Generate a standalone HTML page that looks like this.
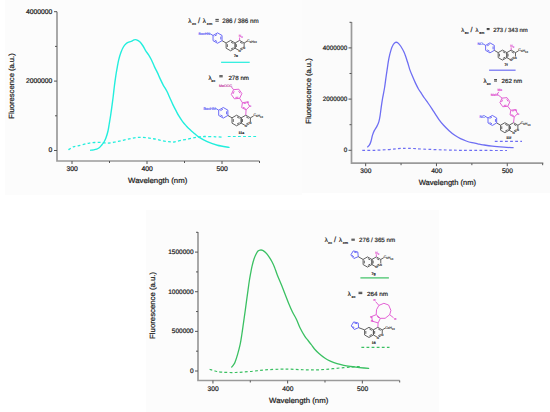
<!DOCTYPE html>
<html><head><meta charset="utf-8"><style>
html,body{margin:0;padding:0;background:#fff;}
body{width:550px;height:412px;overflow:hidden;font-family:"Liberation Sans", sans-serif;}
svg{display:block;}
</style></head><body>
<svg width="550" height="412" viewBox="0 0 550 412" font-family='"Liberation Sans", sans-serif' text-rendering="geometricPrecision">
<rect width="550" height="412" fill="#fff"/>
<rect x="5" y="0" width="297" height="195" fill="#fcfcfc"/>
<rect x="302" y="0" width="248" height="193" fill="#fbfbfb"/>
<rect x="146" y="210" width="293" height="202" fill="#fcfcfc"/>
<path d="M57,11.7 V161 H259.5" fill="none" stroke="#9a9a9a" stroke-width="1.7"/>
<line x1="54" y1="150.5" x2="57" y2="150.5" stroke="#555" stroke-width="1"/>
<text x="52.4" y="152.38" font-size="6.8" text-anchor="end" fill="#222" stroke="#222" stroke-width="0.22" >0</text>
<line x1="54" y1="81.1" x2="57" y2="81.1" stroke="#555" stroke-width="1"/>
<text x="52.4" y="82.97999999999999" font-size="6.8" text-anchor="end" fill="#222" stroke="#222" stroke-width="0.22" >2000000</text>
<line x1="54" y1="11.699999999999989" x2="57" y2="11.699999999999989" stroke="#555" stroke-width="1"/>
<text x="52.4" y="13.579999999999988" font-size="6.8" text-anchor="end" fill="#222" stroke="#222" stroke-width="0.22" >4000000</text>
<line x1="55" y1="115.8" x2="57" y2="115.8" stroke="#555" stroke-width="1"/>
<line x1="55" y1="46.39999999999999" x2="57" y2="46.39999999999999" stroke="#555" stroke-width="1"/>
<line x1="72.0" y1="161" x2="72.0" y2="164" stroke="#555" stroke-width="1"/>
<text x="72.2" y="171.1" font-size="6.8" text-anchor="middle" fill="#222" stroke="#222" stroke-width="0.22" >300</text>
<line x1="147.0" y1="161" x2="147.0" y2="164" stroke="#555" stroke-width="1"/>
<text x="147.2" y="171.1" font-size="6.8" text-anchor="middle" fill="#222" stroke="#222" stroke-width="0.22" >400</text>
<line x1="222.0" y1="161" x2="222.0" y2="164" stroke="#555" stroke-width="1"/>
<text x="222.2" y="171.1" font-size="6.8" text-anchor="middle" fill="#222" stroke="#222" stroke-width="0.22" >500</text>
<line x1="109.5" y1="161" x2="109.5" y2="163" stroke="#555" stroke-width="1"/>
<line x1="184.5" y1="161" x2="184.5" y2="163" stroke="#555" stroke-width="1"/>
<line x1="259.5" y1="161" x2="259.5" y2="163" stroke="#555" stroke-width="1"/>
<text x="-32.75" y="0" font-size="7.5" fill="#222" stroke="#222" stroke-width="0.22" textLength="65.5" lengthAdjust="spacingAndGlyphs" transform="translate(14.3,86.0) rotate(-90)">Fluorescence (a.u.)</text>
<text x="128.10" y="183.4" font-size="7.5" fill="#222" stroke="#222" stroke-width="0.22" textLength="59.2" lengthAdjust="spacingAndGlyphs">Wavelength (nm)</text>
<path d="M90.70,150.20 C91.20,150.15 92.70,150.07 93.70,149.90 C94.70,149.73 95.78,149.55 96.70,149.20 C97.62,148.85 98.45,148.40 99.20,147.80 C99.95,147.20 100.40,146.57 101.20,145.60 C102.00,144.63 103.20,143.32 104.00,142.00 C104.80,140.68 105.33,139.53 106.00,137.70 C106.67,135.87 107.45,133.37 108.00,131.00 C108.55,128.63 108.85,126.17 109.30,123.50 C109.75,120.83 110.25,117.97 110.70,115.00 C111.15,112.03 111.58,108.78 112.00,105.70 C112.42,102.62 112.80,99.78 113.20,96.50 C113.60,93.22 113.97,89.45 114.40,86.00 C114.83,82.55 115.32,78.95 115.80,75.80 C116.28,72.65 116.82,69.77 117.30,67.10 C117.78,64.43 118.10,62.22 118.70,59.80 C119.30,57.38 120.17,54.65 120.90,52.60 C121.63,50.55 122.25,48.97 123.10,47.50 C123.95,46.03 125.03,44.70 126.00,43.80 C126.97,42.90 127.93,42.53 128.90,42.10 C129.87,41.67 130.95,41.57 131.80,41.20 C132.65,40.83 133.22,40.13 134.00,39.90 C134.78,39.67 135.53,39.48 136.50,39.80 C137.47,40.12 138.77,40.85 139.80,41.80 C140.83,42.75 141.73,44.03 142.70,45.50 C143.67,46.97 144.62,49.03 145.60,50.60 C146.58,52.17 147.62,53.33 148.60,54.90 C149.58,56.47 150.53,58.05 151.50,60.00 C152.47,61.95 153.43,64.53 154.40,66.60 C155.37,68.67 156.33,70.35 157.30,72.40 C158.27,74.45 159.23,76.83 160.20,78.90 C161.17,80.97 161.98,82.73 163.10,84.80 C164.22,86.87 165.77,89.10 166.90,91.30 C168.03,93.50 168.90,95.78 169.90,98.00 C170.90,100.22 171.88,102.48 172.90,104.60 C173.92,106.72 174.98,108.77 176.00,110.70 C177.02,112.63 177.90,114.38 179.00,116.20 C180.10,118.02 181.38,119.98 182.60,121.60 C183.82,123.22 185.08,124.58 186.30,125.90 C187.52,127.22 188.70,128.37 189.90,129.50 C191.10,130.63 192.07,131.47 193.50,132.70 C194.93,133.93 196.22,135.42 198.50,136.90 C200.78,138.38 204.05,140.22 207.20,141.60 C210.35,142.98 213.77,144.23 217.40,145.20 C221.03,146.17 227.07,147.03 229.00,147.40" fill="none" stroke="#22eedd" stroke-width="1.4" stroke-linecap="round"/>
<path d="M68.40,149.80 C69.22,149.30 71.70,147.45 73.30,146.80 C74.90,146.15 76.13,146.33 78.00,145.90 C79.87,145.47 82.60,144.67 84.50,144.20 C86.40,143.73 87.68,143.38 89.40,143.10 C91.12,142.82 93.00,142.63 94.80,142.50 C96.60,142.37 98.38,142.22 100.20,142.30 C102.02,142.38 103.97,142.90 105.70,143.00 C107.43,143.10 108.88,143.10 110.60,142.90 C112.32,142.70 114.27,142.13 116.00,141.80 C117.73,141.47 119.25,141.28 121.00,140.90 C122.75,140.52 124.73,139.92 126.50,139.50 C128.27,139.08 129.93,138.73 131.60,138.40 C133.27,138.07 134.85,137.68 136.50,137.50 C138.15,137.32 139.72,137.25 141.50,137.30 C143.28,137.35 145.38,137.58 147.20,137.80 C149.02,138.02 150.68,138.32 152.40,138.60 C154.12,138.88 155.78,139.12 157.50,139.50 C159.22,139.88 160.83,140.55 162.70,140.90 C164.57,141.25 166.82,141.42 168.70,141.60 C170.58,141.78 171.95,142.20 174.00,142.00 C176.05,141.80 178.38,140.95 181.00,140.40 C183.62,139.85 187.03,139.23 189.70,138.70 C192.37,138.17 194.57,137.57 197.00,137.20 C199.43,136.83 201.15,136.57 204.30,136.50 C207.45,136.43 212.87,136.70 215.90,136.80 C218.93,136.90 221.40,137.05 222.50,137.10" fill="none" stroke="#22eedd" stroke-width="1.3" stroke-dasharray="2.8,2.3"/>
<text x="188.2" y="23.4" font-size="6.30" fill="#2a2a2a" stroke="#2a2a2a" stroke-width="0.2">λ</text>
<text x="191.9" y="25.40" font-size="3.78" fill="#2a2a2a" font-weight="bold" stroke="#2a2a2a" stroke-width="0.12">ex</text>
<text x="198.0" y="23.4" font-size="7.56" fill="#2a2a2a" stroke="#2a2a2a" stroke-width="0.2">/</text>
<text x="202.8" y="23.4" font-size="6.30" fill="#2a2a2a" stroke="#2a2a2a" stroke-width="0.2">λ</text>
<text x="206.8" y="25.40" font-size="3.78" fill="#2a2a2a" font-weight="bold" stroke="#2a2a2a" stroke-width="0.12">em</text>
<rect x="215.40" y="18.90" width="3.40" height="0.9" fill="#2a2a2a"/>
<rect x="215.40" y="20.70" width="3.40" height="0.9" fill="#2a2a2a"/>
<text x="222.2" y="23.4" font-size="6.3" fill="#2a2a2a" stroke="#2a2a2a" stroke-width="0.2" textLength="36.4" lengthAdjust="spacingAndGlyphs">286 / 386 nm</text>
<line x1="221.1" y1="62.3" x2="249.7" y2="62.3" stroke="#22eedd" stroke-width="1.2"/>
<text x="208.5" y="79.6" font-size="6.10" fill="#2a2a2a" stroke="#2a2a2a" stroke-width="0.2">λ</text>
<text x="211.2" y="81.60" font-size="3.66" fill="#2a2a2a" font-weight="bold" stroke="#2a2a2a" stroke-width="0.12">ex</text>
<rect x="219.30" y="75.30" width="3.40" height="0.9" fill="#2a2a2a"/>
<rect x="219.30" y="76.40" width="3.40" height="0.9" fill="#2a2a2a"/>
<text x="228.4" y="79.6" font-size="6.1" fill="#2a2a2a" stroke="#2a2a2a" stroke-width="0.2" textLength="20.6" lengthAdjust="spacingAndGlyphs">278 nm</text>
<line x1="227.8" y1="136.5" x2="257" y2="136.5" stroke="#22eedd" stroke-width="1.2" stroke-dasharray="2.8,2.3"/>
<path d="M351.5,22 V163.2 H543.3" fill="none" stroke="#9a9a9a" stroke-width="1.7"/>
<line x1="348.5" y1="150.3" x2="351.5" y2="150.3" stroke="#555" stroke-width="1"/>
<text x="347.3" y="152.00500000000002" font-size="6.3" text-anchor="end" fill="#222" stroke="#222" stroke-width="0.22" >0</text>
<line x1="348.5" y1="99.10000000000001" x2="351.5" y2="99.10000000000001" stroke="#555" stroke-width="1"/>
<text x="347.3" y="100.805" font-size="6.3" text-anchor="end" fill="#222" stroke="#222" stroke-width="0.22" >2000000</text>
<line x1="348.5" y1="47.900000000000006" x2="351.5" y2="47.900000000000006" stroke="#555" stroke-width="1"/>
<text x="347.3" y="49.605000000000004" font-size="6.3" text-anchor="end" fill="#222" stroke="#222" stroke-width="0.22" >4000000</text>
<line x1="349.5" y1="124.70000000000002" x2="351.5" y2="124.70000000000002" stroke="#555" stroke-width="1"/>
<line x1="349.5" y1="73.5" x2="351.5" y2="73.5" stroke="#555" stroke-width="1"/>
<line x1="349.5" y1="22.30000000000001" x2="351.5" y2="22.30000000000001" stroke="#555" stroke-width="1"/>
<line x1="365.66" y1="163.2" x2="365.66" y2="166.2" stroke="#555" stroke-width="1"/>
<text x="365.86" y="173.29999999999998" font-size="6.6" text-anchor="middle" fill="#222" stroke="#222" stroke-width="0.22" >300</text>
<line x1="436.46" y1="163.2" x2="436.46" y2="166.2" stroke="#555" stroke-width="1"/>
<text x="436.65999999999997" y="173.29999999999998" font-size="6.6" text-anchor="middle" fill="#222" stroke="#222" stroke-width="0.22" >400</text>
<line x1="507.26" y1="163.2" x2="507.26" y2="166.2" stroke="#555" stroke-width="1"/>
<text x="507.46" y="173.29999999999998" font-size="6.6" text-anchor="middle" fill="#222" stroke="#222" stroke-width="0.22" >500</text>
<line x1="401.06" y1="163.2" x2="401.06" y2="165.2" stroke="#555" stroke-width="1"/>
<line x1="471.86" y1="163.2" x2="471.86" y2="165.2" stroke="#555" stroke-width="1"/>
<line x1="542.66" y1="163.2" x2="542.66" y2="165.2" stroke="#555" stroke-width="1"/>
<text x="-32.75" y="0" font-size="7.5" fill="#222" stroke="#222" stroke-width="0.22" textLength="65.5" lengthAdjust="spacingAndGlyphs" transform="translate(310.6,91.0) rotate(-90)">Fluorescence (a.u.)</text>
<text x="418.65" y="185.2" font-size="7.5" fill="#222" stroke="#222" stroke-width="0.22" textLength="57.5" lengthAdjust="spacingAndGlyphs">Wavelength (nm)</text>
<path d="M367.70,146.90 C368.00,146.57 368.95,145.85 369.50,144.90 C370.05,143.95 370.50,142.83 371.00,141.20 C371.50,139.57 371.95,136.87 372.50,135.10 C373.05,133.33 373.55,132.10 374.30,130.60 C375.05,129.10 376.23,127.60 377.00,126.10 C377.77,124.60 378.38,123.35 378.90,121.60 C379.42,119.85 379.70,118.10 380.10,115.60 C380.50,113.10 380.87,109.58 381.30,106.60 C381.73,103.62 382.15,100.88 382.70,97.70 C383.25,94.52 384.05,90.90 384.60,87.50 C385.15,84.10 385.52,80.70 386.00,77.30 C386.48,73.90 387.02,70.25 387.50,67.10 C387.98,63.95 388.30,61.32 388.90,58.40 C389.50,55.48 390.37,51.92 391.10,49.60 C391.83,47.28 392.57,45.70 393.30,44.50 C394.03,43.30 394.77,42.70 395.50,42.40 C396.23,42.10 396.85,42.10 397.70,42.70 C398.55,43.30 399.52,44.35 400.60,46.00 C401.68,47.65 403.03,49.88 404.20,52.60 C405.37,55.32 406.67,59.47 407.60,62.30 C408.53,65.13 408.95,67.18 409.80,69.60 C410.65,72.02 411.73,74.50 412.70,76.80 C413.67,79.10 414.62,81.33 415.60,83.40 C416.58,85.47 417.62,87.50 418.60,89.20 C419.58,90.90 420.53,92.13 421.50,93.60 C422.47,95.07 423.32,96.43 424.40,98.00 C425.48,99.57 426.73,101.20 428.00,103.00 C429.27,104.80 430.77,106.95 432.00,108.80 C433.23,110.65 434.27,112.35 435.40,114.10 C436.53,115.85 437.47,117.48 438.80,119.30 C440.13,121.12 441.68,123.10 443.40,125.00 C445.12,126.90 447.20,128.98 449.10,130.70 C451.00,132.42 452.90,133.97 454.80,135.30 C456.70,136.63 458.60,137.75 460.50,138.70 C462.40,139.65 464.28,140.33 466.20,141.00 C468.12,141.67 470.08,142.23 472.00,142.70 C473.92,143.17 475.87,143.45 477.70,143.80 C479.53,144.15 480.57,144.40 483.00,144.80 C485.43,145.20 488.82,145.80 492.30,146.20 C495.78,146.60 500.43,146.95 503.90,147.20 C507.37,147.45 511.57,147.62 513.10,147.70" fill="none" stroke="#6e6ef3" stroke-width="1.3" stroke-linecap="round"/>
<path d="M362.30,150.40 C364.42,150.38 370.72,150.43 375.00,150.30 C379.28,150.17 384.17,149.88 388.00,149.60 C391.83,149.32 394.67,148.82 398.00,148.60 C401.33,148.38 403.82,148.22 408.00,148.30 C412.18,148.38 416.73,148.82 423.10,149.10 C429.47,149.38 438.52,149.78 446.20,150.00 C453.88,150.22 459.07,150.32 469.20,150.40 C479.33,150.48 500.70,150.48 507.00,150.50" fill="none" stroke="#6e6ef3" stroke-width="1.2" stroke-dasharray="2.8,2.3"/>
<text x="461.2" y="32.1" font-size="5.90" fill="#2a2a2a" stroke="#2a2a2a" stroke-width="0.2">λ</text>
<text x="464.7" y="34.10" font-size="3.54" fill="#2a2a2a" font-weight="bold" stroke="#2a2a2a" stroke-width="0.12">ex</text>
<text x="470.6" y="32.1" font-size="7.08" fill="#2a2a2a" stroke="#2a2a2a" stroke-width="0.2">/</text>
<text x="475.6" y="32.1" font-size="5.90" fill="#2a2a2a" stroke="#2a2a2a" stroke-width="0.2">λ</text>
<text x="479.2" y="34.10" font-size="3.54" fill="#2a2a2a" font-weight="bold" stroke="#2a2a2a" stroke-width="0.12">em</text>
<rect x="486.70" y="28.00" width="2.90" height="0.9" fill="#2a2a2a"/>
<rect x="486.70" y="29.20" width="2.90" height="0.9" fill="#2a2a2a"/>
<text x="493.3" y="32.1" font-size="5.9" fill="#2a2a2a" stroke="#2a2a2a" stroke-width="0.2" textLength="34.5" lengthAdjust="spacingAndGlyphs">273 / 343 nm</text>
<line x1="489.1" y1="70.2" x2="515.6" y2="70.2" stroke="#6e6ef3" stroke-width="1.2"/>
<text x="483.5" y="83.0" font-size="6.10" fill="#2a2a2a" stroke="#2a2a2a" stroke-width="0.2">λ</text>
<text x="486.8" y="85.00" font-size="3.66" fill="#2a2a2a" font-weight="bold" stroke="#2a2a2a" stroke-width="0.12">ex</text>
<rect x="494.10" y="79.20" width="2.90" height="0.9" fill="#2a2a2a"/>
<rect x="494.10" y="80.60" width="2.90" height="0.9" fill="#2a2a2a"/>
<text x="501.6" y="83.0" font-size="6.1" fill="#2a2a2a" stroke="#2a2a2a" stroke-width="0.2" textLength="20.6" lengthAdjust="spacingAndGlyphs">262 nm</text>
<line x1="494.8" y1="141.4" x2="522" y2="141.4" stroke="#6e6ef3" stroke-width="1.2" stroke-dasharray="2.8,2.3"/>
<path d="M198,232.1 V380.5 H399.6" fill="none" stroke="#9a9a9a" stroke-width="1.7"/>
<line x1="195" y1="371.0" x2="198" y2="371.0" stroke="#555" stroke-width="1"/>
<text x="193.5" y="372.775" font-size="6.5" text-anchor="end" fill="#222" stroke="#222" stroke-width="0.22" >0</text>
<line x1="195" y1="331.3666666666667" x2="198" y2="331.3666666666667" stroke="#555" stroke-width="1"/>
<text x="193.5" y="333.14166666666665" font-size="6.5" text-anchor="end" fill="#222" stroke="#222" stroke-width="0.22" >500000</text>
<line x1="195" y1="291.73333333333335" x2="198" y2="291.73333333333335" stroke="#555" stroke-width="1"/>
<text x="193.5" y="293.5083333333333" font-size="6.5" text-anchor="end" fill="#222" stroke="#222" stroke-width="0.22" >1000000</text>
<line x1="195" y1="252.10000000000002" x2="198" y2="252.10000000000002" stroke="#555" stroke-width="1"/>
<text x="193.5" y="253.87500000000003" font-size="6.5" text-anchor="end" fill="#222" stroke="#222" stroke-width="0.22" >1500000</text>
<line x1="196" y1="351.18333333333334" x2="198" y2="351.18333333333334" stroke="#555" stroke-width="1"/>
<line x1="196" y1="311.55" x2="198" y2="311.55" stroke="#555" stroke-width="1"/>
<line x1="196" y1="271.9166666666667" x2="198" y2="271.9166666666667" stroke="#555" stroke-width="1"/>
<line x1="196" y1="232.28333333333333" x2="198" y2="232.28333333333333" stroke="#555" stroke-width="1"/>
<line x1="212.94" y1="380.5" x2="212.94" y2="383.5" stroke="#555" stroke-width="1"/>
<text x="213.14" y="390.6" font-size="6.7" text-anchor="middle" fill="#222" stroke="#222" stroke-width="0.22" >300</text>
<line x1="287.64" y1="380.5" x2="287.64" y2="383.5" stroke="#555" stroke-width="1"/>
<text x="287.84" y="390.6" font-size="6.7" text-anchor="middle" fill="#222" stroke="#222" stroke-width="0.22" >400</text>
<line x1="362.34000000000003" y1="380.5" x2="362.34000000000003" y2="383.5" stroke="#555" stroke-width="1"/>
<text x="362.54" y="390.6" font-size="6.7" text-anchor="middle" fill="#222" stroke="#222" stroke-width="0.22" >500</text>
<line x1="250.29" y1="380.5" x2="250.29" y2="382.5" stroke="#555" stroke-width="1"/>
<line x1="324.99" y1="380.5" x2="324.99" y2="382.5" stroke="#555" stroke-width="1"/>
<line x1="399.69" y1="380.5" x2="399.69" y2="382.5" stroke="#555" stroke-width="1"/>
<text x="-33.50" y="0" font-size="7.5" fill="#222" stroke="#222" stroke-width="0.22" textLength="67.0" lengthAdjust="spacingAndGlyphs" transform="translate(154.8,305.4) rotate(-90)">Fluorescence (a.u.)</text>
<text x="269.05" y="403.2" font-size="7.5" fill="#222" stroke="#222" stroke-width="0.22" textLength="59.3" lengthAdjust="spacingAndGlyphs">Wavelength (nm)</text>
<path d="M231.70,367.10 C232.00,366.73 232.93,365.75 233.50,364.90 C234.07,364.05 234.42,363.75 235.10,362.00 C235.78,360.25 236.75,357.37 237.60,354.40 C238.45,351.43 239.48,347.60 240.20,344.20 C240.92,340.80 241.33,337.68 241.90,334.00 C242.47,330.32 243.03,326.07 243.60,322.10 C244.17,318.13 244.78,313.93 245.30,310.20 C245.82,306.47 246.25,303.02 246.70,299.70 C247.15,296.38 247.57,293.42 248.00,290.30 C248.43,287.18 248.85,283.88 249.30,281.00 C249.75,278.12 250.25,275.45 250.70,273.00 C251.15,270.55 251.45,268.63 252.00,266.30 C252.55,263.97 253.33,261.00 254.00,259.00 C254.67,257.00 255.33,255.63 256.00,254.30 C256.67,252.97 257.33,251.70 258.00,251.00 C258.67,250.30 259.22,250.22 260.00,250.10 C260.78,249.98 261.82,249.93 262.70,250.30 C263.58,250.67 264.30,251.30 265.30,252.30 C266.30,253.30 267.58,254.73 268.70,256.30 C269.82,257.87 271.03,259.88 272.00,261.70 C272.97,263.52 273.62,264.98 274.50,267.20 C275.38,269.42 276.13,272.03 277.30,275.00 C278.47,277.97 280.23,281.88 281.50,285.00 C282.77,288.12 283.70,290.63 284.90,293.70 C286.10,296.77 287.42,300.32 288.70,303.40 C289.98,306.48 291.30,309.52 292.60,312.20 C293.90,314.88 295.27,316.90 296.50,319.50 C297.73,322.10 298.63,325.02 300.00,327.80 C301.37,330.58 303.35,334.08 304.70,336.20 C306.05,338.32 307.00,339.08 308.10,340.50 C309.20,341.92 310.23,343.28 311.30,344.70 C312.37,346.12 313.22,347.53 314.50,349.00 C315.78,350.47 317.30,352.00 319.00,353.50 C320.70,355.00 322.82,356.72 324.70,358.00 C326.58,359.28 328.25,360.25 330.30,361.20 C332.35,362.15 334.75,363.00 337.00,363.70 C339.25,364.40 341.53,364.93 343.80,365.40 C346.07,365.87 348.33,366.18 350.60,366.50 C352.87,366.82 355.15,367.05 357.40,367.30 C359.65,367.55 362.23,367.82 364.10,368.00 C365.97,368.18 367.85,368.33 368.60,368.40" fill="none" stroke="#3ac062" stroke-width="1.3" stroke-linecap="round"/>
<path d="M209.60,369.30 C210.50,369.58 212.93,370.52 215.00,371.00 C217.07,371.48 218.58,371.95 222.00,372.20 C225.42,372.45 230.83,372.62 235.50,372.50 C240.17,372.38 245.08,371.93 250.00,371.50 C254.92,371.07 260.00,370.28 265.00,369.90 C270.00,369.52 275.83,369.32 280.00,369.20 C284.17,369.08 286.67,369.13 290.00,369.20 C293.33,369.27 296.67,369.48 300.00,369.60 C303.33,369.72 306.45,369.88 310.00,369.90 C313.55,369.92 317.55,369.90 321.30,369.70 C325.05,369.50 328.75,369.05 332.50,368.70 C336.25,368.35 340.42,367.92 343.80,367.60 C347.18,367.28 350.10,366.97 352.80,366.80 C355.50,366.63 358.80,366.63 360.00,366.60" fill="none" stroke="#3ac062" stroke-width="1.2" stroke-dasharray="2.8,2.3"/>
<text x="324.7" y="242.3" font-size="6.20" fill="#2a2a2a" stroke="#2a2a2a" stroke-width="0.2">λ</text>
<text x="328.0" y="244.30" font-size="3.72" fill="#2a2a2a" font-weight="bold" stroke="#2a2a2a" stroke-width="0.12">ex</text>
<text x="334.0" y="242.3" font-size="7.44" fill="#2a2a2a" stroke="#2a2a2a" stroke-width="0.2">/</text>
<text x="338.9" y="242.3" font-size="6.20" fill="#2a2a2a" stroke="#2a2a2a" stroke-width="0.2">λ</text>
<text x="342.7" y="244.30" font-size="3.72" fill="#2a2a2a" font-weight="bold" stroke="#2a2a2a" stroke-width="0.12">em</text>
<rect x="351.40" y="238.70" width="3.40" height="0.9" fill="#2a2a2a"/>
<rect x="351.40" y="239.70" width="3.40" height="0.9" fill="#2a2a2a"/>
<text x="359.0" y="242.3" font-size="6.2" fill="#2a2a2a" stroke="#2a2a2a" stroke-width="0.2" textLength="36.1" lengthAdjust="spacingAndGlyphs">276 / 365 nm</text>
<line x1="360.4" y1="277.9" x2="388.9" y2="277.9" stroke="#3ac062" stroke-width="1.2"/>
<text x="347.7" y="295.5" font-size="6.10" fill="#2a2a2a" stroke="#2a2a2a" stroke-width="0.2">λ</text>
<text x="351.4" y="297.50" font-size="3.66" fill="#2a2a2a" font-weight="bold" stroke="#2a2a2a" stroke-width="0.12">ex</text>
<rect x="358.50" y="291.80" width="3.80" height="0.9" fill="#2a2a2a"/>
<rect x="358.50" y="293.20" width="3.80" height="0.9" fill="#2a2a2a"/>
<text x="367.0" y="295.5" font-size="6.1" fill="#2a2a2a" stroke="#2a2a2a" stroke-width="0.2" textLength="21.0" lengthAdjust="spacingAndGlyphs">264 nm</text>
<line x1="361.4" y1="347.3" x2="389.5" y2="347.3" stroke="#3ac062" stroke-width="1.2" stroke-dasharray="2.8,2.3"/>
<path d="M230.60,40.40 L235.10,43.00 L235.10,48.20 L230.60,50.80 L226.10,48.20 L226.10,43.00 Z M230.99,42.08 L233.45,43.50 M233.45,47.70 L230.99,49.12 M227.36,47.02 L227.36,44.18" fill="none" stroke="#505050" stroke-width="0.9" stroke-linejoin="round"/>
<path d="M239.61,40.40 L244.11,43.00 L244.11,48.20 L239.61,50.80 L235.10,48.20 L235.10,43.00 Z M240.00,42.08 L242.46,43.50 M242.46,47.70 L240.00,49.12 M236.36,47.02 L236.36,44.18" fill="none" stroke="#505050" stroke-width="0.9" stroke-linejoin="round"/>
<circle cx="244.11" cy="48.20" r="1.2" fill="#fcfcfc"/>
<text x="244.11" y="49.30" font-size="3.0" fill="#333" text-anchor="middle" font-weight="normal" stroke="#333" stroke-width="0.18">N</text>
<circle cx="239.61" cy="50.80" r="1.2" fill="#fcfcfc"/>
<text x="239.61" y="51.90" font-size="3.0" fill="#333" text-anchor="middle" font-weight="normal" stroke="#333" stroke-width="0.18">N</text>
<line x1="226.10" y1="43.00" x2="222.04" y2="40.66" stroke="#505050" stroke-width="0.9"/>
<path d="M217.54,32.86 L222.04,35.46 L222.04,40.66 L217.54,43.26 L213.04,40.66 L213.04,35.46 Z M220.78,36.64 L220.78,39.48 M217.15,41.58 L214.69,40.16 M214.69,35.96 L217.15,34.54" fill="none" stroke="#5a5af6" stroke-width="0.9" stroke-linejoin="round"/>
<line x1="213.04" y1="35.46" x2="209.66" y2="33.51" stroke="#5a5af6" stroke-width="0.9"/>
<text x="209.96" y="34.71" font-size="3.6" fill="#5a5af6" text-anchor="end" font-weight="normal" stroke="#5a5af6" stroke-width="0.18">BocHN</text>
<line x1="239.61" y1="40.40" x2="239.61" y2="37.54" stroke="#e050d0" stroke-width="0.9"/>
<text x="240.71" y="37.14" font-size="3.4" fill="#e050d0" text-anchor="middle" font-weight="normal" stroke="#e050d0" stroke-width="0.18">N<tspan font-size="2.55" dy="0.85">3</tspan><tspan dy="-0.85"></tspan></text>
<line x1="244.11" y1="43.00" x2="247.26" y2="41.18" stroke="#505050" stroke-width="0.9"/>
<text x="247.06" y="41.68" font-size="3.6" fill="#505050" text-anchor="start" font-weight="normal" stroke="#505050" stroke-width="0.18">C<tspan font-size="2.70" dy="0.90">6</tspan><tspan dy="-0.90"></tspan>H<tspan font-size="2.70" dy="0.90">13</tspan><tspan dy="-0.90"></tspan></text>
<text x="235.90" y="57.30" font-size="3.5" fill="#2a2a2a" text-anchor="middle" font-weight="bold" stroke="#2a2a2a" stroke-width="0.18">7e</text>
<path d="M502.50,50.10 L506.83,52.60 L506.83,57.60 L502.50,60.10 L498.17,57.60 L498.17,52.60 Z M502.87,51.72 L505.24,53.08 M505.24,57.12 L502.87,58.48 M499.38,56.47 L499.38,53.73" fill="none" stroke="#505050" stroke-width="0.9" stroke-linejoin="round"/>
<path d="M511.16,50.10 L515.49,52.60 L515.49,57.60 L511.16,60.10 L506.83,57.60 L506.83,52.60 Z M511.53,51.72 L513.90,53.08 M513.90,57.12 L511.53,58.48 M508.04,56.47 L508.04,53.73" fill="none" stroke="#505050" stroke-width="0.9" stroke-linejoin="round"/>
<circle cx="515.49" cy="57.60" r="1.2" fill="#fcfcfc"/>
<text x="515.49" y="58.70" font-size="3.0" fill="#333" text-anchor="middle" font-weight="normal" stroke="#333" stroke-width="0.18">N</text>
<circle cx="511.16" cy="60.10" r="1.2" fill="#fcfcfc"/>
<text x="511.16" y="61.20" font-size="3.0" fill="#333" text-anchor="middle" font-weight="normal" stroke="#333" stroke-width="0.18">N</text>
<line x1="498.17" y1="52.60" x2="494.27" y2="50.35" stroke="#505050" stroke-width="0.9"/>
<path d="M489.94,42.85 L494.27,45.35 L494.27,50.35 L489.94,52.85 L485.61,50.35 L485.61,45.35 Z M493.06,46.48 L493.06,49.22 M489.57,51.23 L487.20,49.87 M487.20,45.83 L489.57,44.47" fill="none" stroke="#5a5af6" stroke-width="0.9" stroke-linejoin="round"/>
<line x1="485.61" y1="45.35" x2="482.36" y2="43.48" stroke="#5a5af6" stroke-width="0.9"/>
<text x="482.66" y="44.68" font-size="3.6" fill="#5a5af6" text-anchor="end" font-weight="normal" stroke="#5a5af6" stroke-width="0.18">NC</text>
<line x1="511.16" y1="50.10" x2="511.16" y2="47.35" stroke="#e050d0" stroke-width="0.9"/>
<text x="512.26" y="46.95" font-size="3.4" fill="#e050d0" text-anchor="middle" font-weight="normal" stroke="#e050d0" stroke-width="0.18">N<tspan font-size="2.55" dy="0.85">3</tspan><tspan dy="-0.85"></tspan></text>
<line x1="515.49" y1="52.60" x2="518.52" y2="50.85" stroke="#505050" stroke-width="0.9"/>
<text x="518.32" y="51.35" font-size="3.6" fill="#505050" text-anchor="start" font-weight="normal" stroke="#505050" stroke-width="0.18">C<tspan font-size="2.70" dy="0.90">6</tspan><tspan dy="-0.90"></tspan>H<tspan font-size="2.70" dy="0.90">13</tspan><tspan dy="-0.90"></tspan></text>
<text x="506.10" y="65.60" font-size="3.5" fill="#2a2a2a" text-anchor="middle" font-weight="bold" stroke="#2a2a2a" stroke-width="0.18">7f</text>
<path d="M236.60,115.20 L241.19,117.85 L241.19,123.15 L236.60,125.80 L232.01,123.15 L232.01,117.85 Z M237.00,116.91 L239.51,118.36 M239.51,122.64 L237.00,124.09 M233.30,121.95 L233.30,119.05" fill="none" stroke="#505050" stroke-width="0.9" stroke-linejoin="round"/>
<path d="M245.78,115.20 L250.37,117.85 L250.37,123.15 L245.78,125.80 L241.19,123.15 L241.19,117.85 Z M246.18,116.91 L248.69,118.36 M248.69,122.64 L246.18,124.09 M242.48,121.95 L242.48,119.05" fill="none" stroke="#505050" stroke-width="0.9" stroke-linejoin="round"/>
<circle cx="250.37" cy="123.15" r="1.2" fill="#fcfcfc"/>
<text x="250.37" y="124.25" font-size="3.0" fill="#333" text-anchor="middle" font-weight="normal" stroke="#333" stroke-width="0.18">N</text>
<circle cx="245.78" cy="125.80" r="1.2" fill="#fcfcfc"/>
<text x="245.78" y="126.90" font-size="3.0" fill="#333" text-anchor="middle" font-weight="normal" stroke="#333" stroke-width="0.18">N</text>
<line x1="232.01" y1="117.85" x2="227.88" y2="115.46" stroke="#505050" stroke-width="0.9"/>
<path d="M223.29,107.51 L227.88,110.16 L227.88,115.46 L223.29,118.11 L218.70,115.46 L218.70,110.16 Z M226.59,111.36 L226.59,114.27 M222.89,116.40 L220.38,114.95 M220.38,110.68 L222.89,109.23" fill="none" stroke="#5a5af6" stroke-width="0.9" stroke-linejoin="round"/>
<line x1="218.70" y1="110.16" x2="215.26" y2="108.18" stroke="#5a5af6" stroke-width="0.9"/>
<text x="215.56" y="110.08" font-size="3.8" fill="#5a5af6" text-anchor="end" font-weight="normal" stroke="#5a5af6" stroke-width="0.18">BocHN</text>
<path d="M249.55,106.36 L246.06,109.85 L241.66,107.61 L242.43,102.73 L247.31,101.96 Z M245.49,108.49 L243.09,107.27 M243.68,103.49 L246.35,103.07" fill="none" stroke="#e050d0" stroke-width="0.9" stroke-linejoin="round"/>
<line x1="245.78" y1="115.20" x2="246.06" y2="109.85" stroke="#e050d0" stroke-width="0.9"/>
<path d="M238.84,89.20 L241.88,93.54 L239.64,98.34 L234.36,98.80 L231.32,94.46 L233.56,89.66 Z M238.48,90.92 L240.14,93.29 M238.33,97.17 L235.44,97.42 M232.99,93.92 L234.22,91.29" fill="none" stroke="#e050d0" stroke-width="0.9" stroke-linejoin="round"/>
<line x1="239.64" y1="98.34" x2="242.43" y2="102.73" stroke="#e050d0" stroke-width="0.9"/>
<text x="247.91" y="102.96" font-size="2.6" fill="#e050d0" text-anchor="middle" font-weight="normal" stroke="#e050d0" stroke-width="0.18">N</text>
<text x="250.15" y="107.36" font-size="2.6" fill="#e050d0" text-anchor="middle" font-weight="normal" stroke="#e050d0" stroke-width="0.18">N</text>
<line x1="233.56" y1="89.66" x2="231.36" y2="86.86" stroke="#e050d0" stroke-width="0.9"/>
<text x="232.16" y="87.16" font-size="3.6" fill="#c84aa8" text-anchor="end" font-weight="normal" stroke="#c84aa8" stroke-width="0.18">MeOOC</text>
<line x1="250.37" y1="117.85" x2="253.58" y2="115.99" stroke="#505050" stroke-width="0.9"/>
<text x="253.38" y="116.49" font-size="3.6" fill="#505050" text-anchor="start" font-weight="normal" stroke="#505050" stroke-width="0.18">C<tspan font-size="2.70" dy="0.90">6</tspan><tspan dy="-0.90"></tspan>H<tspan font-size="2.70" dy="0.90">13</tspan><tspan dy="-0.90"></tspan></text>
<text x="241.40" y="134.20" font-size="3.5" fill="#2a2a2a" text-anchor="middle" font-weight="bold" stroke="#2a2a2a" stroke-width="0.18">11a</text>
<path d="M504.90,122.70 L509.23,125.20 L509.23,130.20 L504.90,132.70 L500.57,130.20 L500.57,125.20 Z M505.27,124.32 L507.64,125.68 M507.64,129.72 L505.27,131.08 M501.78,129.07 L501.78,126.33" fill="none" stroke="#505050" stroke-width="0.9" stroke-linejoin="round"/>
<path d="M513.56,122.70 L517.89,125.20 L517.89,130.20 L513.56,132.70 L509.23,130.20 L509.23,125.20 Z M513.93,124.32 L516.30,125.68 M516.30,129.72 L513.93,131.08 M510.44,129.07 L510.44,126.33" fill="none" stroke="#505050" stroke-width="0.9" stroke-linejoin="round"/>
<circle cx="517.89" cy="130.20" r="1.2" fill="#fcfcfc"/>
<text x="517.89" y="131.30" font-size="3.0" fill="#333" text-anchor="middle" font-weight="normal" stroke="#333" stroke-width="0.18">N</text>
<circle cx="513.56" cy="132.70" r="1.2" fill="#fcfcfc"/>
<text x="513.56" y="133.80" font-size="3.0" fill="#333" text-anchor="middle" font-weight="normal" stroke="#333" stroke-width="0.18">N</text>
<line x1="500.57" y1="125.20" x2="496.67" y2="122.95" stroke="#505050" stroke-width="0.9"/>
<path d="M492.34,115.45 L496.67,117.95 L496.67,122.95 L492.34,125.45 L488.01,122.95 L488.01,117.95 Z M495.46,119.08 L495.46,121.82 M491.97,123.83 L489.60,122.47 M489.60,118.43 L491.97,117.07" fill="none" stroke="#5a5af6" stroke-width="0.9" stroke-linejoin="round"/>
<line x1="488.01" y1="117.95" x2="484.76" y2="116.08" stroke="#5a5af6" stroke-width="0.9"/>
<text x="485.06" y="117.98" font-size="3.8" fill="#5a5af6" text-anchor="end" font-weight="normal" stroke="#5a5af6" stroke-width="0.18">NC</text>
<path d="M517.55,113.73 L514.23,117.05 L510.04,114.92 L510.77,110.27 L515.42,109.54 Z M513.69,115.76 L511.40,114.59 M511.96,111.00 L514.51,110.60" fill="none" stroke="#e050d0" stroke-width="0.9" stroke-linejoin="round"/>
<line x1="513.56" y1="122.70" x2="514.23" y2="117.05" stroke="#e050d0" stroke-width="0.9"/>
<path d="M507.01,97.67 L509.88,101.76 L507.77,106.30 L502.79,106.73 L499.92,102.64 L502.03,98.10 Z M506.67,99.29 L508.24,101.53 M506.53,105.19 L503.81,105.43 M501.50,102.12 L502.65,99.64" fill="none" stroke="#e050d0" stroke-width="0.9" stroke-linejoin="round"/>
<line x1="507.77" y1="106.30" x2="510.77" y2="110.27" stroke="#e050d0" stroke-width="0.9"/>
<text x="516.02" y="110.54" font-size="2.6" fill="#e050d0" text-anchor="middle" font-weight="normal" stroke="#e050d0" stroke-width="0.18">N</text>
<text x="518.15" y="114.73" font-size="2.6" fill="#e050d0" text-anchor="middle" font-weight="normal" stroke="#e050d0" stroke-width="0.18">N</text>
<line x1="502.03" y1="98.10" x2="497.23" y2="94.20" stroke="#e050d0" stroke-width="0.9"/>
<line x1="497.23" y1="94.20" x2="498.83" y2="91.80" stroke="#e050d0" stroke-width="0.9"/>
<text x="497.83" y="95.50" font-size="3.4" fill="#e050d0" text-anchor="end" font-weight="normal" stroke="#e050d0" stroke-width="0.18">MeN</text>
<text x="499.83" y="91.30" font-size="3.4" fill="#e050d0" text-anchor="middle" font-weight="normal" stroke="#e050d0" stroke-width="0.18">Me</text>
<line x1="517.89" y1="125.20" x2="520.92" y2="123.45" stroke="#505050" stroke-width="0.9"/>
<text x="520.72" y="123.95" font-size="3.6" fill="#505050" text-anchor="start" font-weight="normal" stroke="#505050" stroke-width="0.18">C<tspan font-size="2.70" dy="0.90">6</tspan><tspan dy="-0.90"></tspan>H<tspan font-size="2.70" dy="0.90">13</tspan><tspan dy="-0.90"></tspan></text>
<text x="508.80" y="138.80" font-size="3.5" fill="#2a2a2a" text-anchor="middle" font-weight="bold" stroke="#2a2a2a" stroke-width="0.18">11f</text>
<path d="M367.50,256.90 L371.92,259.45 L371.92,264.55 L367.50,267.10 L363.08,264.55 L363.08,259.45 Z M367.88,258.55 L370.30,259.94 M370.30,264.06 L367.88,265.45 M364.32,263.40 L364.32,260.60" fill="none" stroke="#505050" stroke-width="0.9" stroke-linejoin="round"/>
<path d="M376.33,256.90 L380.75,259.45 L380.75,264.55 L376.33,267.10 L371.92,264.55 L371.92,259.45 Z M376.72,258.55 L379.13,259.94 M379.13,264.06 L376.72,265.45 M373.15,263.40 L373.15,260.60" fill="none" stroke="#505050" stroke-width="0.9" stroke-linejoin="round"/>
<circle cx="380.75" cy="264.55" r="1.2" fill="#fcfcfc"/>
<text x="380.75" y="265.65" font-size="3.0" fill="#333" text-anchor="middle" font-weight="normal" stroke="#333" stroke-width="0.18">N</text>
<circle cx="376.33" cy="267.10" r="1.2" fill="#fcfcfc"/>
<text x="376.33" y="268.20" font-size="3.0" fill="#333" text-anchor="middle" font-weight="normal" stroke="#333" stroke-width="0.18">N</text>
<path d="M358.23,256.66 L353.90,258.50 L350.82,254.95 L353.24,250.92 L357.82,251.98 Z M353.89,257.10 L352.20,255.16 M354.07,252.04 L356.58,252.62" fill="none" stroke="#5a5af6" stroke-width="0.9" stroke-linejoin="round"/>
<line x1="358.23" y1="256.66" x2="363.08" y2="259.45" stroke="#505050" stroke-width="0.9"/>
<text x="357.93" y="257.66" font-size="2.6" fill="#5a5af6" text-anchor="start" font-weight="normal" stroke="#5a5af6" stroke-width="0.18"></text>
<line x1="376.33" y1="256.90" x2="376.33" y2="254.30" stroke="#e050d0" stroke-width="0.9"/>
<text x="377.23" y="253.80" font-size="3.4" fill="#e050d0" text-anchor="middle" font-weight="normal" stroke="#e050d0" stroke-width="0.18">N<tspan font-size="2.55" dy="0.85">3</tspan><tspan dy="-0.85"></tspan></text>
<line x1="380.75" y1="259.45" x2="383.84" y2="257.66" stroke="#505050" stroke-width="0.9"/>
<text x="383.64" y="258.16" font-size="3.6" fill="#505050" text-anchor="start" font-weight="normal" stroke="#505050" stroke-width="0.18">C<tspan font-size="2.70" dy="0.90">6</tspan><tspan dy="-0.90"></tspan>H<tspan font-size="2.70" dy="0.90">13</tspan><tspan dy="-0.90"></tspan></text>
<text x="373.50" y="275.30" font-size="3.5" fill="#2a2a2a" text-anchor="middle" font-weight="bold" stroke="#2a2a2a" stroke-width="0.18">7g</text>
<path d="M369.00,327.30 L373.42,329.85 L373.42,334.95 L369.00,337.50 L364.58,334.95 L364.58,329.85 Z M369.38,328.95 L371.80,330.34 M371.80,334.46 L369.38,335.85 M365.82,333.80 L365.82,331.00" fill="none" stroke="#505050" stroke-width="0.9" stroke-linejoin="round"/>
<path d="M377.83,327.30 L382.25,329.85 L382.25,334.95 L377.83,337.50 L373.42,334.95 L373.42,329.85 Z M378.22,328.95 L380.63,330.34 M380.63,334.46 L378.22,335.85 M374.65,333.80 L374.65,331.00" fill="none" stroke="#505050" stroke-width="0.9" stroke-linejoin="round"/>
<circle cx="382.25" cy="334.95" r="1.2" fill="#fcfcfc"/>
<text x="382.25" y="336.05" font-size="3.0" fill="#333" text-anchor="middle" font-weight="normal" stroke="#333" stroke-width="0.18">N</text>
<circle cx="377.83" cy="337.50" r="1.2" fill="#fcfcfc"/>
<text x="377.83" y="338.60" font-size="3.0" fill="#333" text-anchor="middle" font-weight="normal" stroke="#333" stroke-width="0.18">N</text>
<path d="M358.63,327.66 L354.30,329.50 L351.22,325.95 L353.64,321.92 L358.22,322.98 Z M354.29,328.10 L352.60,326.16 M354.47,323.04 L356.98,323.62" fill="none" stroke="#5a5af6" stroke-width="0.9" stroke-linejoin="round"/>
<line x1="358.63" y1="327.66" x2="364.58" y2="329.85" stroke="#505050" stroke-width="0.9"/>
<text x="358.33" y="328.66" font-size="2.6" fill="#5a5af6" text-anchor="start" font-weight="normal" stroke="#5a5af6" stroke-width="0.18"></text>
<path d="M376.20,314.70 L380.40,318.30 L378.10,322.90 L372.40,321.20 L371.60,316.50 Z" fill="none" stroke="#e050d0" stroke-width="0.9" stroke-linejoin="round"/>
<line x1="377.00" y1="316.20" x2="379.30" y2="318.20" stroke="#e050d0" stroke-width="0.9"/>
<line x1="377.83" y1="327.30" x2="378.10" y2="322.90" stroke="#e050d0" stroke-width="0.9"/>
<path d="M376.20,314.70 L376.50,309.70 L378.90,305.40 L383.90,303.30 L388.60,305.00 L390.90,310.40 L389.70,314.70 L385.10,318.30 L380.40,318.30" fill="none" stroke="#e050d0" stroke-width="0.9" stroke-linejoin="round"/>
<line x1="378.90" y1="305.40" x2="375.60" y2="301.60" stroke="#e050d0" stroke-width="0.9"/>
<line x1="389.70" y1="314.70" x2="393.60" y2="317.80" stroke="#e050d0" stroke-width="0.9"/>
<text x="374.60" y="301.40" font-size="2.9" fill="#e050d0" text-anchor="middle" font-weight="bold" stroke="#e050d0" stroke-width="0.18">R</text>
<text x="395.40" y="320.40" font-size="2.9" fill="#e050d0" text-anchor="middle" font-weight="bold" stroke="#e050d0" stroke-width="0.18">R</text>
<text x="371.30" y="317.50" font-size="2.8" fill="#e050d0" text-anchor="middle" font-weight="normal" stroke="#e050d0" stroke-width="0.18">N</text>
<text x="372.10" y="322.20" font-size="2.8" fill="#e050d0" text-anchor="middle" font-weight="normal" stroke="#e050d0" stroke-width="0.18">N</text>
<line x1="382.25" y1="329.85" x2="385.34" y2="328.06" stroke="#505050" stroke-width="0.9"/>
<text x="385.14" y="328.56" font-size="3.6" fill="#505050" text-anchor="start" font-weight="normal" stroke="#505050" stroke-width="0.18">C<tspan font-size="2.70" dy="0.90">6</tspan><tspan dy="-0.90"></tspan>H<tspan font-size="2.70" dy="0.90">13</tspan><tspan dy="-0.90"></tspan></text>
<text x="373.70" y="344.40" font-size="3.5" fill="#2a2a2a" text-anchor="middle" font-weight="bold" stroke="#2a2a2a" stroke-width="0.18">16</text>
</svg>
</body></html>
